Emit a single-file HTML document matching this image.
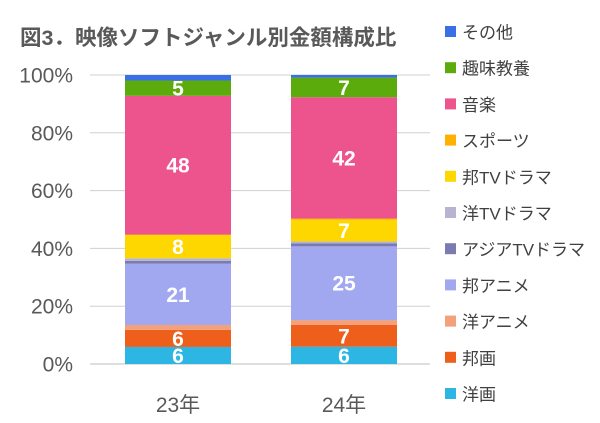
<!DOCTYPE html>
<html><head><meta charset="utf-8"><style>
html,body{margin:0;padding:0;background:#fff;width:600px;height:423px;overflow:hidden}
svg{display:block;font-family:"Liberation Sans","Noto Sans CJK JP",sans-serif}
</style></head><body>
<svg id="c" width="600" height="423">
<text x="20" y="45" font-size="21.5" font-weight="bold" fill="#595959">図3．映像ソフトジャンル別金額構成比</text>
</svg>
<script>
const categories=["23年","24年"];
const seriesNames=["洋画","邦画","洋アニメ","邦アニメ","アジアTVドラマ","洋TVドラマ","邦TVドラマ","スポーツ","音楽","趣味教養","その他"];
const seriesColors=["#2db5e3","#ed5f1a","#f4a07a","#a2a8f0","#7b7bb0","#b6b4d0","#ffd700","#ffb000","#ed548e","#5aab0b","#3a6fe8"];
const values23=[5.9,5.9,1.7,21.2,1.0,0.9,8.0,0.2,48.0,5.3,1.9];
const values24=[6.0,7.5,1.7,25.5,1.0,0.7,7.6,0.3,42.0,6.8,0.9];
const labels23=["6","6","","21","","","8","","48","5",""];
const labels24=["6","7","","25","","","7","","42","7",""];
const yTicks=[0,20,40,60,80,100];
const NS="http://www.w3.org/2000/svg";
const svg=document.getElementById('c');
const y0=364,y1=75;
const yScale=v=>y0-(v/100)*(y0-y1);
const barX=[125,291],barW=106;
function mk(t,a){const e=document.createElementNS(NS,t);for(const k in a)e.setAttribute(k,a[k]);svg.appendChild(e);return e;}
yTicks.forEach(t=>{
  const l=mk('line',{x1:90,x2:430,y1:yScale(t),y2:yScale(t),stroke:t===0?'#bfbfbf':'#d0d0d0','stroke-width':1});
  
  
  const tx=mk('text',{x:73,y:yScale(t)+7.5,'font-size':21,fill:'#595959','text-anchor':'end'});
  tx.textContent=t+'%';
  
  
});
[values23,values24].forEach((vals,bi)=>{
  const labs=bi===0?labels23:labels24;
  let cum=0;
  vals.forEach((v,si)=>{
    const top=yScale(cum+v),bot=yScale(cum);
    const r=mk('rect',{x:barX[bi],y:top,width:barW,height:Math.max(0,bot-top),fill:seriesColors[si]});
    
    
    if(labs[si]){
      const t=mk('text',{x:barX[bi]+barW/2,y:(top+bot)/2+7.5,'font-size':21,'font-weight':'bold',fill:'#fff','text-anchor':'middle'});
      t.textContent=labs[si];
      
      
    }
    cum+=v;
  });
  const xl=mk('text',{x:barX[bi]+barW/2,y:412,'font-size':21,fill:'#595959','text-anchor':'middle'});
  xl.textContent=categories[bi];
  
  
});
for(let i=0;i<seriesNames.length;i++){
  const si=seriesNames.length-1-i;
  const y=32+i*36.2;
  const r=mk('rect',{x:445,y:y-6,width:11,height:11,fill:seriesColors[si]});
  
  
  const t=mk('text',{x:462,y:y+6.5,'font-size':17,fill:'#404040'});
  t.textContent=seriesNames[si];
  
  
}
</script>
</body></html>
